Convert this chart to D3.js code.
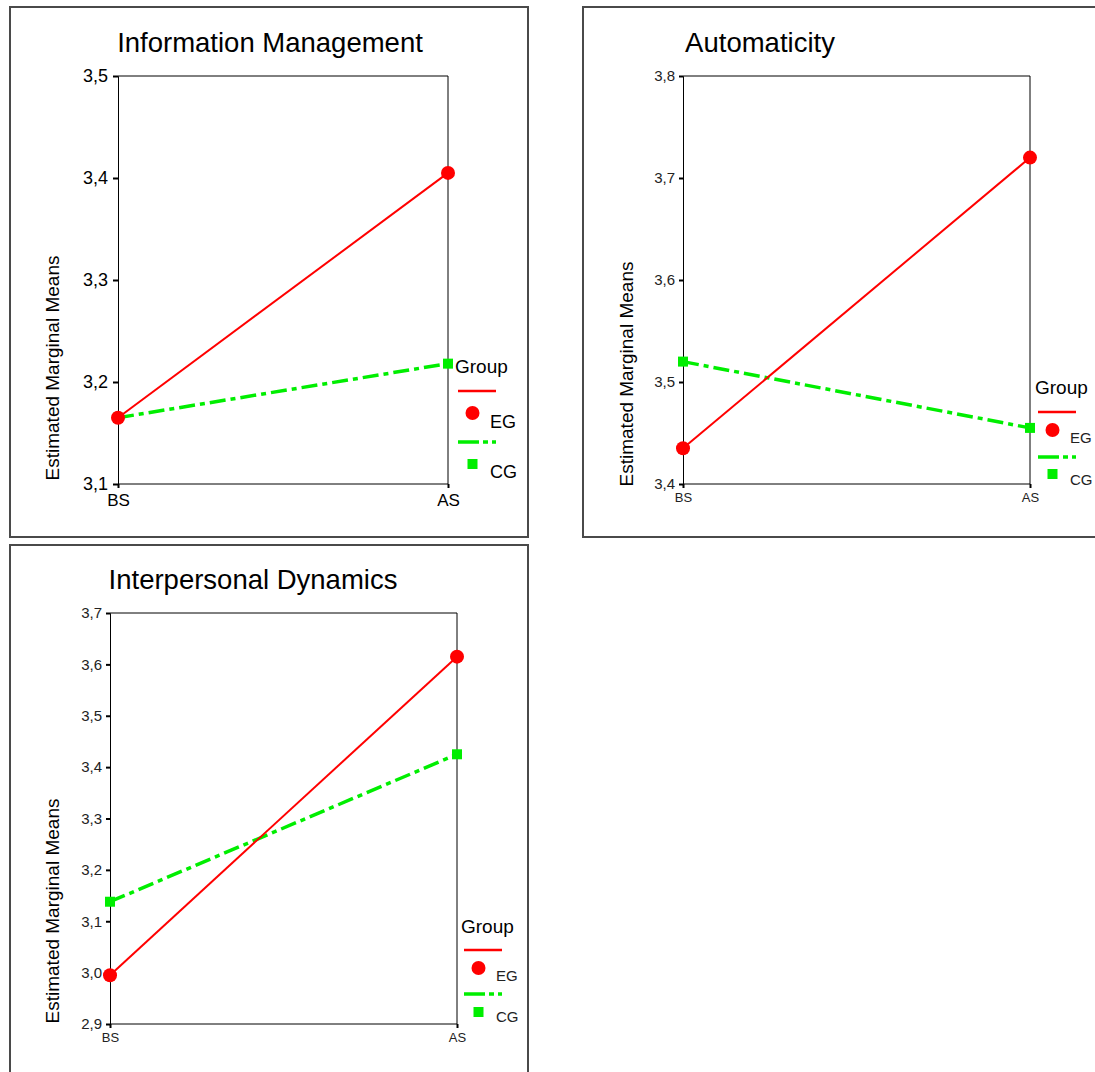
<!DOCTYPE html>
<html><head><meta charset="utf-8">
<script src="https://cdn.jsdelivr.net/npm/d3@7"></script>
<style>body{margin:0;background:#fff}svg{display:block}text{font-family:Arial,"Liberation Sans",sans-serif}</style>
</head><body>
<script>
// ---- data ----
const categories = ["BS", "AS"];
const groups = ["EG", "CG"];
const infoEG = [3.165, 3.405];
const infoCG = [3.165, 3.218];
const infoTicks = [3.1, 3.2, 3.3, 3.4, 3.5];
const autoEG = [3.435, 3.72];
const autoCG = [3.52, 3.455];
const autoTicks = [3.4, 3.5, 3.6, 3.7, 3.8];
const interEG = [2.995, 3.615];
const interCG = [3.138, 3.425];
const interTicks = [2.9, 3.0, 3.1, 3.2, 3.3, 3.4, 3.5, 3.6, 3.7];
const titles = ["Information Management", "Automaticity", "Interpersonal Dynamics"];
const yTitle = "Estimated Marginal Means";
const legendTitle = "Group";

const W = 1095, H = 1072;
const svg = d3.select("body").append("svg").attr("width", W).attr("height", H);
const fmt = v => d3.format(".1f")(v).replace(".", ",");
const RED = "#ff0000", GREEN = "#00ee00", DASH = "16,5,5,5";

const panels = [
  {title: titles[0], eg: infoEG, cg: infoCG, ticks: infoTicks,
   frame: [10, 7, 528, 537], plot: [118, 76, 448, 484], titleX: 270, titleY: 52, titleSize: 27.5,
   tickSize: 18, tickColor: "#000", tickLen: 5, tickPad: 5, catSize: 17, catPad: 6,
   yTitleX: 59, yTitleCY: 368, yTitleSize: 19,
   leg: {x: 455, titleY: 373, titleSize: 19, labSize: 18, lineY: 391, dotY: 413, labY: 428, gLineY: 442, sqY: 464, cgY: 478}},
  {title: titles[1], eg: autoEG, cg: autoCG, ticks: autoTicks,
   frame: [583, 7, 1100, 537], plot: [683, 76, 1030, 484], titleX: 760, titleY: 52, titleSize: 27.5,
   tickSize: 15, tickColor: "#222", tickLen: 4, tickPad: 4, catSize: 13, catPad: 5,
   yTitleX: 633, yTitleCY: 374, yTitleSize: 19,
   leg: {x: 1035, titleY: 394, titleSize: 19, labSize: 15, lineY: 412, dotY: 430, labY: 443, gLineY: 457, sqY: 474, cgY: 485}},
  {title: titles[2], eg: interEG, cg: interCG, ticks: interTicks,
   frame: [10, 545, 528, 1080], plot: [110, 613, 457, 1024], titleX: 253, titleY: 589, titleSize: 27.5,
   tickSize: 15, tickColor: "#222", tickLen: 4, tickPad: 4, catSize: 13, catPad: 5,
   yTitleX: 59, yTitleCY: 911, yTitleSize: 19,
   leg: {x: 461, titleY: 933, titleSize: 19, labSize: 15, lineY: 950, dotY: 968, labY: 981, gLineY: 994, sqY: 1012, cgY: 1022}}
];

panels.forEach(p => {
  const g = svg.append("g");
  const [fx0, fy0, fx1, fy1] = p.frame;
  g.append("rect").attr("x", fx0).attr("y", fy0).attr("width", fx1 - fx0).attr("height", fy1 - fy0)
    .attr("fill", "none").attr("stroke", "#4a4a4a").attr("stroke-width", 2);
  const [px0, py0, px1, py1] = p.plot;
  const x = d3.scalePoint().domain(categories).range([px0, px1]);
  const y = d3.scaleLinear().domain([p.ticks[0], p.ticks[p.ticks.length - 1]]).range([py1, py0]);

  g.append("text").attr("x", p.titleX).attr("y", p.titleY).attr("text-anchor", "middle")
    .attr("font-size", p.titleSize).text(p.title);

  // plot box top & right
  g.append("path").attr("d", `M${px0},${py0}H${px1}V${py1}`).attr("fill", "none").attr("stroke", "#000").attr("stroke-width", 1);

  const yAxis = d3.axisLeft(y).tickValues(p.ticks).tickFormat(fmt).tickSize(p.tickLen).tickPadding(p.tickPad);
  const ya = g.append("g").attr("transform", `translate(${px0},0)`).call(yAxis);
  ya.select(".domain").attr("stroke", "#000");
  ya.selectAll("line").attr("stroke", "#000").attr("stroke-width", 2);
  ya.selectAll("text").attr("font-size", p.tickSize).attr("fill", p.tickColor).attr("font-family", "Arial, 'Liberation Sans', sans-serif");

  const xAxis = d3.axisBottom(x).tickSize(4).tickPadding(p.catPad);
  const xa = g.append("g").attr("transform", `translate(0,${py1})`).call(xAxis);
  xa.select(".domain").attr("stroke", "#000").attr("d", `M${px0},0H${px1}`);
  xa.selectAll("line").attr("stroke", "#000").attr("stroke-width", 2);
  xa.selectAll("text").attr("font-size", p.catSize).attr("fill", p.tickColor).attr("font-family", "Arial, 'Liberation Sans', sans-serif");

  g.append("text").attr("transform", `translate(${p.yTitleX},${p.yTitleCY}) rotate(-90)`)
    .attr("text-anchor", "middle").attr("font-size", p.yTitleSize).text(yTitle);

  const line = d3.line().x((d, i) => x(categories[i])).y(d => y(d));
  g.append("path").datum(p.cg).attr("d", line).attr("fill", "none").attr("stroke", GREEN)
    .attr("stroke-width", 3.5).attr("stroke-dasharray", DASH);
  g.append("path").datum(p.eg).attr("d", line).attr("fill", "none").attr("stroke", RED).attr("stroke-width", 2);
  g.selectAll(".sq").data(p.cg).join("rect").attr("x", (d, i) => x(categories[i]) - 5).attr("y", d => y(d) - 5)
    .attr("width", 10).attr("height", 10).attr("fill", GREEN);
  g.selectAll(".dot").data(p.eg).join("circle").attr("cx", (d, i) => x(categories[i])).attr("cy", d => y(d))
    .attr("r", 7).attr("fill", RED);

  // legend
  const L = p.leg;
  g.append("text").attr("x", L.x).attr("y", L.titleY).attr("font-size", L.titleSize).text(legendTitle);
  g.append("line").attr("x1", L.x + 3).attr("x2", L.x + 41).attr("y1", L.lineY).attr("y2", L.lineY)
    .attr("stroke", RED).attr("stroke-width", 2.5);
  g.append("circle").attr("cx", L.x + 17.5).attr("cy", L.dotY).attr("r", 7).attr("fill", RED);
  g.append("text").attr("x", L.x + 35).attr("y", L.labY).attr("font-size", L.labSize).attr("fill", p.tickColor).text(groups[0]);
  g.append("line").attr("x1", L.x + 3).attr("x2", L.x + 41).attr("y1", L.gLineY).attr("y2", L.gLineY)
    .attr("stroke", GREEN).attr("stroke-width", 3.5).attr("stroke-dasharray", "21,4,5,4,4,4");
  g.append("rect").attr("x", L.x + 12.5).attr("y", L.sqY - 5).attr("width", 10).attr("height", 10).attr("fill", GREEN);
  g.append("text").attr("x", L.x + 35).attr("y", L.cgY).attr("font-size", L.labSize).attr("fill", p.tickColor).text(groups[1]);
});
</script>
</body></html>
